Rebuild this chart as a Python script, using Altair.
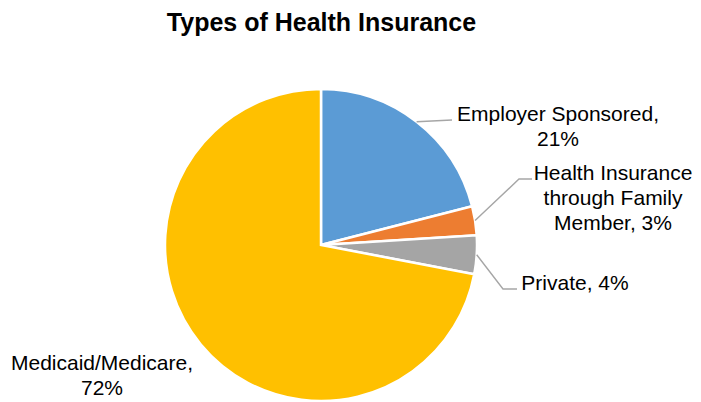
import math
import altair as alt
import pandas as pd

# ---- data ----
categories = ["Employer Sponsored", "Health Insurance through Family Member", "Private", "Medicaid/Medicare"]
values = [21, 3, 4, 72]
label_texts = ["Employer Sponsored,\n21%", "Health Insurance\nthrough Family\nMember, 3%", "Private, 4%", "Medicaid/Medicare,\n72%"]
colors = ["#5B9BD5", "#ED7D31", "#A5A5A5", "#FFC000"]
title_text = "Types of Health Insurance"

# ---- layout ----
W, H = 685, 394
CX, CY, R = 313, 237, 156
label_x = [550, 605, 567, 94]
label_y = [113, 172, 282, 362]
# leader line elbow/end points (None = no leader)
leader_pts = [
    [(444, 112)],
    [(511, 171), (524, 171)],
    [(495, 281), (509, 281)],
    None,
]
FONT = "Liberation Sans"

pie_df = pd.DataFrame({"category": categories, "value": values, "idx": list(range(len(values)))})

pie = alt.Chart(pie_df).mark_arc(outerRadius=R, stroke="white", strokeWidth=2.5).encode(
    theta=alt.Theta("value:Q", stack=True),
    color=alt.Color("category:N", scale=alt.Scale(domain=categories, range=colors), legend=None),
    order=alt.Order("idx:Q"),
    x=alt.value(CX),
    y=alt.value(CY),
)

# leader lines start at slice mid-angle on the pie edge
total = sum(values)
rows = []
cum = 0
for i, v in enumerate(values):
    mid = (cum + v / 2) / total * 2 * math.pi
    cum += v
    pts = leader_pts[i]
    if pts is None:
        continue
    sx = CX + R * math.sin(mid)
    sy = CY - R * math.cos(mid)
    rows.append({"cat": categories[i], "seq": 0, "x": sx, "y": sy})
    for j, (px, py) in enumerate(pts):
        rows.append({"cat": categories[i], "seq": j + 1, "x": px, "y": py})
lines_df = pd.DataFrame(rows)

lines = alt.Chart(lines_df).mark_line(color="#A6A6A6", strokeWidth=1.4).encode(
    x=alt.X("x:Q", scale=None, axis=None),
    y=alt.Y("y:Q", scale=None, axis=None),
    detail="cat:N",
    order="seq:Q",
)

lab_df = pd.DataFrame({"text": label_texts, "lx": label_x, "ly": label_y})
labels = alt.Chart(lab_df).mark_text(
    font=FONT, fontSize=21, color="#000000", align="center", baseline="alphabetic",
    lineBreak="\n", lineHeight=25,
).encode(
    x=alt.X("lx:Q", scale=None, axis=None),
    y=alt.Y("ly:Q", scale=None, axis=None),
    text="text:N",
)

title = alt.Chart(pd.DataFrame({"t": [title_text]})).mark_text(
    font=FONT, fontSize=25, fontWeight="bold", color="#000000", align="center", baseline="alphabetic",
).encode(
    x=alt.value(313.5),
    y=alt.value(23),
    text="t:N",
)

chart = alt.layer(pie, lines, labels, title).properties(
    width=W, height=H, autosize=alt.AutoSizeParams(type="none"), padding=0,
).configure_view(stroke=None)

chart.save("out.html", embed_options={"renderer": "svg", "actions": False})
